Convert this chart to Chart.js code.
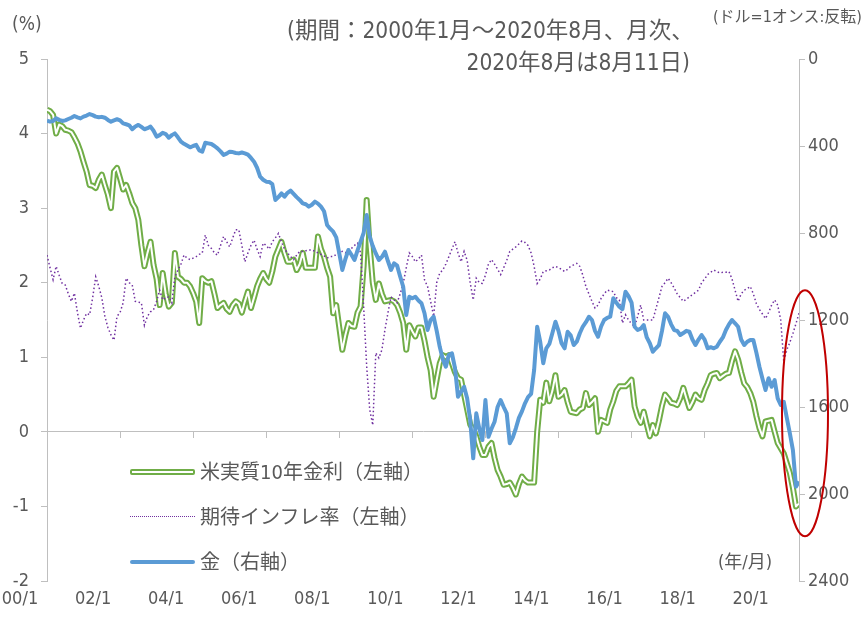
<!DOCTYPE html>
<html>
<head>
<meta charset="utf-8">
<script src="https://cdn.jsdelivr.net/npm/chart.js@4.4.1/dist/chart.umd.min.js"></script>
<style>
  body { margin: 0; background: #fff; }
  #wrap { position: relative; width: 866px; height: 627px; }
  .txt {
    position: absolute; white-space: nowrap; color: #595959;
    font-family: "Liberation Sans Narrow", "DejaVu Sans Condensed", "Noto Sans CJK JP", sans-serif;
  }
  .sw { position: absolute; left: 130px; width: 65px; }
</style>
</head>
<body>
<div id="wrap">
  <canvas id="myChart" width="866" height="627"></canvas>

  <div class="txt" style="left:12px; top:11px; font-size:19px; line-height:24px;">(%)</div>
  <div class="txt" style="left:287px; top:16px; font-size:22.5px; line-height:28px;">(期間：2000年1月～2020年8月、月次、</div>
  <div class="txt" style="right:176px; top:48px; font-size:22.5px; line-height:28px;">2020年8月は8月11日)</div>
  <div class="txt" style="right:4px; top:6px; font-size:16px; line-height:22px;">(ドル=1オンス:反転)</div>
  <div class="txt" style="left:718px; top:550px; font-size:18px; line-height:24px;">(年/月)</div>

  <div class="sw" style="top:469px; height:2px; border:2px solid #70AD47; border-radius:2px; background:#fff; width:61px;"></div>
  <div class="sw" style="top:516px; height:0; border-top:1.5px dotted #7030A0;"></div>
  <div class="sw" style="top:560px; height:4px; background:#5B9BD5; border-radius:2px;"></div>
  <div class="txt" style="left:200px; top:459px; font-size:20px; line-height:26px;">米実質10年金利（左軸）</div>
  <div class="txt" style="left:200px; top:504px; font-size:20px; line-height:26px;">期待インフレ率（左軸）</div>
  <div class="txt" style="left:200px; top:549px; font-size:20px; line-height:26px;">金（右軸）</div>
</div>

<script>
// monthly, 2000/1 - 2020/8 (one row per year)
const realYield = [
  4.32, 4.30, 4.25, 4.00, 4.12, 4.10, 4.05, 4.04, 4.02, 3.95, 3.87, 3.76,
  3.62, 3.49, 3.31, 3.30, 3.27, 3.38, 3.45, 3.31, 3.18, 3.00, 3.49, 3.54,
  3.40, 3.25, 3.31, 3.20, 3.07, 3.00, 2.84, 2.50, 2.22, 2.40, 2.55, 2.24,
  2.05, 1.70, 2.13, 1.85, 1.68, 1.73, 2.40, 2.08, 2.05, 2.00, 2.00, 1.95,
  1.86, 1.75, 1.46, 2.06, 2.02, 2.00, 2.02, 1.85, 1.66, 1.70, 1.73, 1.65,
  1.61, 1.70, 1.75, 1.72, 1.60, 1.75, 1.88, 1.66, 1.80, 1.95, 2.05, 2.13,
  2.05, 2.00, 2.15, 2.35, 2.45, 2.55, 2.40, 2.28, 2.28, 2.31, 2.17, 2.25,
  2.40, 2.20, 2.20, 2.20, 2.20, 2.62, 2.45, 2.35, 2.20, 2.08, 1.59, 1.70,
  1.40, 1.10, 1.30, 1.46, 1.42, 1.41, 1.60, 1.68, 2.22, 3.11, 2.48, 2.00,
  1.77, 1.99, 1.85, 1.75, 1.76, 1.77, 1.75, 1.70, 1.60, 1.46, 1.10, 1.43,
  1.35, 1.28, 1.40, 1.40, 1.22, 1.00, 0.83, 0.47, 0.70, 0.92, 1.03, 1.00,
  1.03, 0.92, 0.80, 0.72, 0.70, 0.50, 0.30, 0.10, 0.03, -0.06, -0.20, -0.31,
  -0.31, -0.20, -0.15, -0.35, -0.51, -0.60, -0.71, -0.70, -0.68, -0.75, -0.84, -0.70,
  -0.60, -0.65, -0.68, -0.68, -0.68, 0.00, 0.43, 0.39, 0.66, 0.41, 0.55, 0.76,
  0.47, 0.50, 0.56, 0.40, 0.27, 0.26, 0.25, 0.30, 0.32, 0.52, 0.36, 0.40,
  0.45, 0.00, 0.16, 0.14, 0.12, 0.30, 0.41, 0.55, 0.61, 0.61, 0.61, 0.65,
  0.70, 0.34, 0.20, 0.12, 0.27, 0.10, -0.06, 0.09, -0.02, 0.15, 0.35, 0.50,
  0.45, 0.39, 0.38, 0.36, 0.45, 0.59, 0.45, 0.32, 0.40, 0.50, 0.45, 0.43,
  0.56, 0.65, 0.76, 0.78, 0.79, 0.72, 0.75, 0.78, 0.79, 0.95, 1.08, 0.97,
  0.80, 0.65, 0.60, 0.52, 0.40, 0.21, 0.05, -0.06, 0.14, 0.15, 0.16, 0.00,
  -0.15, -0.22, -0.29, -0.42, -0.55, -0.75, -1.00, -0.96
]

const breakeven = [
  2.37, 2.20, 2.04, 2.22, 2.10, 1.99, 1.97, 1.85, 1.75, 1.86, 1.60, 1.39,
  1.50, 1.59, 1.57, 1.80, 2.08, 1.95, 1.80, 1.55, 1.40, 1.30, 1.23, 1.55,
  1.60, 1.73, 2.06, 2.00, 1.97, 1.75, 1.74, 1.73, 1.43, 1.55, 1.61, 1.64,
  1.75, 1.90, 1.77, 1.80, 1.81, 1.73, 2.08, 2.17, 2.25, 2.37, 2.33, 2.31,
  2.33, 2.35, 2.38, 2.40, 2.64, 2.50, 2.46, 2.40, 2.37, 2.50, 2.62, 2.55,
  2.48, 2.60, 2.71, 2.71, 2.50, 2.28, 2.40, 2.50, 2.57, 2.45, 2.35, 2.53,
  2.50, 2.45, 2.55, 2.60, 2.66, 2.55, 2.45, 2.40, 2.35, 2.31, 2.37, 2.42,
  2.42, 2.43, 2.44, 2.44, 2.42, 2.40, 2.38, 2.36, 2.33, 2.35, 2.35, 2.38,
  2.40, 2.42, 2.40, 2.44, 2.46, 2.50, 2.53, 2.40, 1.68, 0.88, 0.30, 0.09,
  1.06, 0.99, 1.10, 1.37, 1.60, 1.81, 1.77, 1.73, 1.85, 1.99, 2.20, 2.40,
  2.35, 2.28, 2.32, 2.37, 2.04, 1.95, 1.75, 1.55, 2.00, 2.13, 2.17, 2.25,
  2.35, 2.45, 2.55, 2.40, 2.28, 2.42, 2.30, 2.00, 1.77, 2.06, 2.00, 1.99,
  2.10, 2.25, 2.31, 2.25, 2.18, 2.11, 2.20, 2.30, 2.42, 2.45, 2.48, 2.52,
  2.56, 2.54, 2.50, 2.40, 2.22, 1.99, 2.05, 2.15, 2.16, 2.17, 2.20, 2.22,
  2.20, 2.18, 2.15, 2.18, 2.22, 2.24, 2.26, 2.22, 2.10, 1.95, 1.85, 1.75,
  1.66, 1.70, 1.79, 1.85, 1.90, 1.89, 1.88, 1.80, 1.77, 1.46, 1.57, 1.50,
  1.45, 1.41, 1.55, 1.70, 1.50, 1.50, 1.50, 1.50, 1.65, 1.80, 1.95, 2.00,
  2.06, 2.00, 1.93, 1.85, 1.80, 1.75, 1.78, 1.81, 1.84, 1.87, 1.90, 2.00,
  2.05, 2.11, 2.14, 2.17, 2.15, 2.13, 2.14, 2.14, 2.15, 2.05, 1.90, 1.75,
  1.85, 1.90, 1.92, 1.95, 1.85, 1.72, 1.64, 1.58, 1.52, 1.60, 1.70, 1.77,
  1.70, 1.50, 0.94, 1.10, 1.20, 1.32, 1.45, 1.59
]

// USD per troy ounce, drawn on a reversed right axis
const gold = [
  284, 288, 285, 273, 280, 285, 282, 276, 270, 262, 268, 273,
  265, 260, 253, 258, 265, 268, 266, 270, 280, 288, 282, 277,
  282, 296, 300, 305, 323, 310, 303, 312, 323, 318, 311, 330,
  357, 350, 339, 345, 362, 350, 342, 360, 380, 390, 398, 406,
  400, 395, 420, 426, 385, 388, 391, 400, 411, 425, 441, 435,
  426, 428, 432, 434, 430, 434, 440, 455, 472, 500, 541, 555,
  564, 565, 575, 648, 635, 618, 633, 615, 605, 620, 635, 648,
  664, 668, 679, 670, 656, 665, 679, 700, 763, 780, 794, 820,
  894, 970, 920, 878, 900, 924, 880, 840, 800, 717, 817, 860,
  894, 924, 910, 886, 930, 970, 939, 950, 1000, 1047, 1177, 1093,
  1100, 1093, 1110, 1123, 1169, 1246, 1200, 1185, 1250, 1323, 1380, 1415,
  1360, 1353, 1420, 1553, 1530, 1507, 1560, 1660, 1836, 1629, 1700, 1752,
  1568, 1737, 1700, 1668, 1600, 1568, 1600, 1629, 1767, 1740, 1698, 1650,
  1620, 1583, 1555, 1540, 1430, 1231, 1300, 1399, 1330, 1310, 1260, 1208,
  1250, 1307, 1330, 1254, 1270, 1315, 1300, 1261, 1230, 1210, 1185, 1200,
  1250, 1277, 1230, 1200, 1190, 1185, 1100, 1120, 1139, 1150, 1070, 1090,
  1120, 1231, 1246, 1240, 1223, 1280, 1307, 1346, 1330, 1315, 1250, 1169,
  1185, 1220, 1246, 1250, 1269, 1260, 1250, 1254, 1290, 1315, 1290, 1269,
  1290, 1330, 1325, 1330, 1323, 1300, 1280, 1246, 1220, 1200, 1215, 1231,
  1290, 1315, 1300, 1292, 1292, 1350, 1415, 1470, 1522, 1468, 1507, 1476,
  1560, 1590, 1576, 1650, 1721, 1798, 1966, 1943
]

// x labels every 24 months from 2000/1
const tickLabels = ['00/1', '02/1', '04/1', '06/1', '08/1', '10/1', '12/1', '14/1', '16/1', '18/1', '20/1']
const tickStep = 24
const months = gold.map((v, i) => i)

const green = '#70AD47'
const blue = '#5B9BD5'
const purple = '#7030A0'
const axisGray = '#BFBFBF'
const textGray = '#595959'
const tickFont = { family: '"Liberation Sans Narrow", "DejaVu Sans Condensed", "Noto Sans CJK JP", sans-serif', size: 18 }

function setTicks(scale) {
  scale.ticks = tickLabels.map((t, i) => ({ value: i * tickStep }))
}

// red ring around the latest months
const ringPlugin = {
  id: 'ring',
  afterDatasetsDraw(chart) {
    const c = chart.ctx
    const x = chart.scales.x.getPixelForValue(months.length - 1) + 6
    const top = chart.scales.y.getPixelForValue(1.9)
    const bottom = chart.scales.y.getPixelForValue(-1.4)
    c.save()
    c.beginPath()
    c.ellipse(x, (top + bottom) / 2, 23, (bottom - top) / 2, 0, 0, Math.PI * 2)
    c.strokeStyle = '#C00000'
    c.lineWidth = 2
    c.stroke()
    c.restore()
  }
}

const ctx = document.getElementById('myChart').getContext('2d')
const myChart = new Chart(ctx, {
  type: 'line',
  data: {
    labels: months,
    datasets: [
      {
        label: '金（右軸）',
        data: gold,
        yAxisID: 'y1',
        borderColor: blue,
        borderWidth: 4,
        borderJoinStyle: 'round',
        pointRadius: 0,
        tension: 0
      },
      {
        label: '期待インフレ率（左軸）',
        data: breakeven,
        yAxisID: 'y',
        borderColor: purple,
        borderWidth: 1.5,
        borderDash: [1.5, 2.5],
        pointRadius: 0,
        tension: 0
      },
      {
        label: 'inner',
        data: realYield,
        yAxisID: 'y',
        borderColor: '#ffffff',
        borderWidth: 2,
        borderJoinStyle: 'round',
        pointRadius: 0,
        tension: 0
      },
      {
        label: '米実質10年金利（左軸）',
        data: realYield,
        yAxisID: 'y',
        borderColor: green,
        borderWidth: 6,
        borderJoinStyle: 'round',
        pointRadius: 0,
        tension: 0
      }
    ]
  },
  options: {
    responsive: false,
    animation: false,
    layout: { padding: { top: 59, left: 0, right: 0, bottom: 0 } },
    plugins: {
      legend: { display: false },
      tooltip: { enabled: false }
    },
    scales: {
      x: {
        type: 'linear',
        position: 'bottom',
        min: 0,
        max: months.length - 1,
        afterBuildTicks: setTicks,
        afterFit: (s) => { s.height = 46 },
        grid: { display: false, drawTicks: false },
        border: { display: false },
        ticks: {
          autoSkip: false,
          maxRotation: 0,
          padding: 8,
          labelOffset: -27,
          color: textGray,
          font: tickFont,
          callback: (v) => tickLabels[Math.round(v / tickStep)]
        }
      },
      x0: {
        type: 'linear',
        position: { y: 0 },
        min: 0,
        max: months.length - 1,
        afterBuildTicks: setTicks,
        grid: { drawOnChartArea: false, drawTicks: true, tickLength: 6, color: axisGray },
        border: { display: true, color: axisGray },
        ticks: { display: false }
      },
      y: {
        position: 'left',
        min: -2,
        max: 5,
        afterFit: (s) => { s.width = 47 },
        grid: { drawOnChartArea: false, tickLength: 6, color: axisGray },
        border: { color: axisGray },
        ticks: { stepSize: 1, padding: 12, color: textGray, font: tickFont }
      },
      y1: {
        position: 'right',
        min: 0,
        max: 2400,
        reverse: true,
        afterFit: (s) => { s.width = 67 },
        grid: { drawOnChartArea: false, tickLength: 6, color: axisGray },
        border: { color: axisGray },
        ticks: { stepSize: 400, padding: 3, color: textGray, font: tickFont, callback: (v) => String(v) }
      }
    }
  },
  plugins: [ringPlugin]
})
</script>
</body>
</html>
